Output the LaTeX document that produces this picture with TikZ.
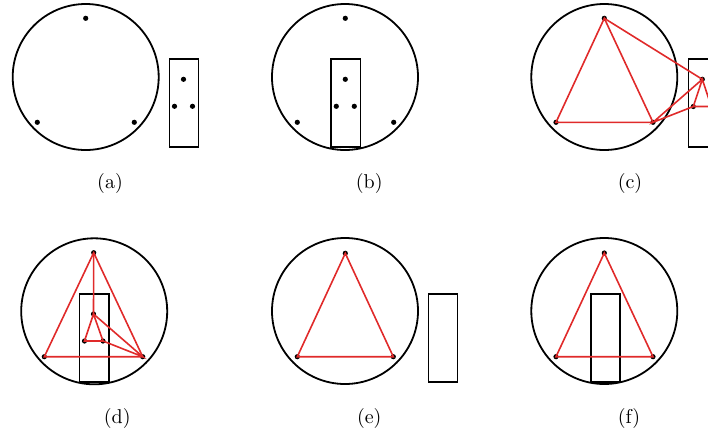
\documentclass[tikz,border=0pt]{standalone}
\usetikzlibrary{positioning,calc}
\definecolor{link}{HTML}{E02A2A}
\tikzset{
  disc/.style={draw, circle, line width=0.9pt, minimum size=73pt, inner sep=0pt},
  slab/.style={draw, line width=0.85pt, minimum width=14.6pt, minimum height=44pt, inner sep=0pt},
  pt/.style={circle, fill, inner sep=0pt, minimum size=2.6pt},
  rl/.style={link, line width=0.8pt}}

\begin{document}
\begin{tikzpicture}[x=0.5pt, y=-0.5pt]
\clip (0,0) rectangle (708,436);
% (a)
\node[disc] (ca) at (85.7,77) {};
\node[pt] (ca1) at (85.7,18.3) {};
\node[pt] (ca2) at (37.3,122.3) {};
\node[pt] (ca3) at (134.3,122.3) {};
\node[slab] (ra) at (184,103.2) {};
\node[pt] (ra1) at (183.5,79.3) {};
\node[pt] (ra2) at (174.5,106.3) {};
\node[pt] (ra3) at (192.5,106.3) {};
\node (la) at (110,183) {(a)};
% (b)
\node[disc] (cb) at (345,77) {};
\node[pt] (cb1) at (345.3,18.3) {};
\node[pt] (cb2) at (297.3,122.3) {};
\node[pt] (cb3) at (393.7,122.3) {};
\node[slab] (rb) at (345.8,103.2) {};
\node[pt] (rb1) at (345.3,79.3) {};
\node[pt] (rb2) at (336.3,106.3) {};
\node[pt] (rb3) at (354.3,106.3) {};
\node (lb) at (369.3,183) {(b)};
% (c)
\node[disc] (cc) at (604.3,77) {};
\node[pt] (cc1) at (604.3,18.3) {};
\node[pt] (cc2) at (556,122.3) {};
\node[pt] (cc3) at (653,122.3) {};
\node[slab] (rc) at (703,103.2) {};
\node[pt] (rc1) at (702.3,79.3) {};
\node[pt] (rc2) at (693.3,106.5) {};
\node[pt] (rc3) at (711.3,106.5) {};
\draw[rl] (cc1.center) -- (cc2.center) -- (cc3.center) -- cycle;
\draw[rl] (cc1.center) -- (rc1.center) -- (cc3.center) -- (rc2.center);
\draw[rl] (rc1.center) -- (rc2.center) -- (rc3.center) -- cycle;
\node (lc) at (630,183) {(c)};
% (d)
\node[disc] (cd) at (94.2,311.3) {};
\node[pt] (cd1) at (93.7,252.7) {};
\node[pt] (cd2) at (44.3,356.7) {};
\node[pt] (cd3) at (142.7,356.7) {};
\node[slab] (rd) at (94.2,338.3) {};
\node[pt] (rd1) at (93.5,314) {};
\node[pt] (rd2) at (84.5,341) {};
\node[pt] (rd3) at (103,341) {};
\draw[rl] (cd1.center) -- (cd2.center) -- (cd3.center) -- cycle;
\draw[rl] (cd1.center) -- (rd1.center) -- (cd3.center) -- (rd3.center);
\draw[rl] (rd1.center) -- (rd2.center) -- (rd3.center) -- cycle;
\node (ld) at (117.3,418.3) {(d)};
% (e)
\node[disc] (ce) at (345,311) {};
\node[pt] (ce1) at (345.3,253.3) {};
\node[pt] (ce2) at (297.3,356.7) {};
\node[pt] (ce3) at (393.3,356.7) {};
\node[slab] (re) at (443,338.3) {};
\draw[rl] (ce1.center) -- (ce2.center) -- (ce3.center) -- cycle;
\node (le) at (369.3,418) {(e)};
% (f)
\node[disc] (cf) at (604.3,311) {};
\node[pt] (cf1) at (604.3,253) {};
\node[pt] (cf2) at (556,356.7) {};
\node[pt] (cf3) at (653,356.7) {};
\node[slab] (rf) at (605.5,338.3) {};
\draw[rl] (cf1.center) -- (cf2.center) -- (cf3.center) -- cycle;
\node (lf) at (629,418) {(f)};
\end{tikzpicture}
\end{document}
